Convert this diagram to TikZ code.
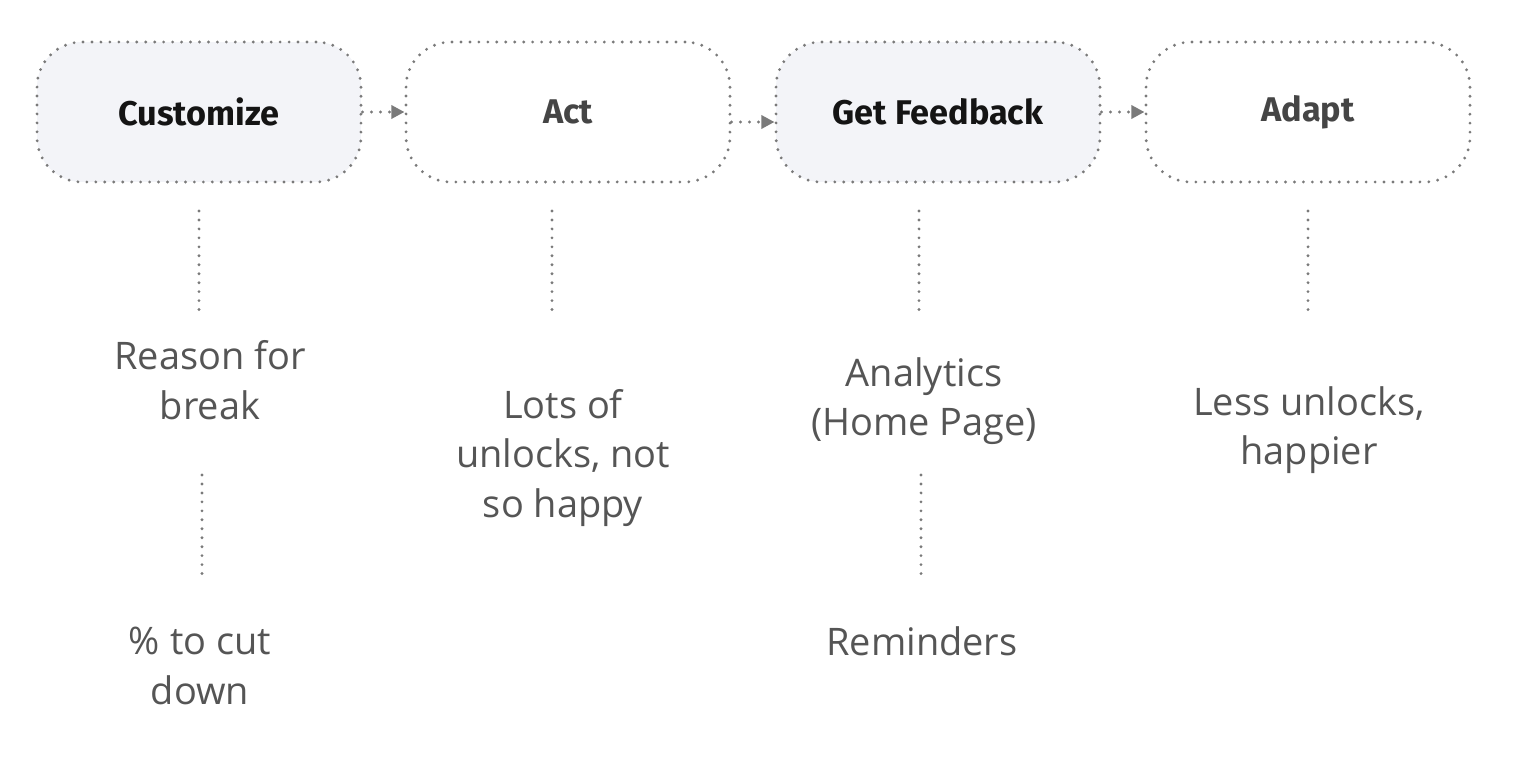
\documentclass[tikz,border=0pt]{standalone}
\usepackage{fontspec}
\setmainfont{Open Sans}
\newfontfamily\headfont{Fira Sans}
\usepackage{xcolor}
\usepackage{tikz}
\usetikzlibrary{positioning,arrows.meta}
\definecolor{dotgray}{HTML}{7A7A7A}
\definecolor{txtgray}{HTML}{555555}
\definecolor{headgray}{HTML}{454545}
\definecolor{boxfill}{HTML}{F3F4F8}
\tikzset{
	dotline/.style={draw=dotgray, line width=1.8pt, line cap=round, dash pattern=on 0pt off 5.1pt},
	stage/.style={dotline, rounded corners=0.9cm, minimum width=6.48cm, minimum height=2.8cm,
		font=\headfont\bfseries\fontsize{19.5}{22}\selectfont},
	hot/.style={stage, fill=boxfill, text=black!92},
	cold/.style={stage, fill=white, text=headgray},
	note/.style={align=center, text=txtgray, font=\fontsize{21.6}{28.3}\selectfont},
	flow/.style={dotline, -{Triangle[length=7.5pt,width=7.5pt,fill=dotgray]}}
}

\begin{document}
\begin{tikzpicture}[x=0.02cm,y=-0.02cm]
	\useasboundingbox (0,0) rectangle (1514,760);
	\node[hot]  (cust)  at (199,112)  {Customize};
	\node[cold] (act)   at (568,112)  {Act};
	\node[hot]  (fb)    at (938,112)  {Get Feedback};
	\node[cold] (adapt) at (1308,112) {Adapt};
	\draw[flow] (cust.east) -- (act.west);
	\draw[flow] ([yshift=-0.2cm]act.east) -- ([yshift=-0.2cm]fb.west);
	\draw[flow] (fb.east) -- (adapt.west);
	\node[note] (reason)  at (210,380)  {Reason for\\break};
	\node[note] (cut)     at (200,666)  {\% to cut\\down};
	\node[note] (lots)    at (563,458)  {Lots of\\unlocks, not\\so happy};
	\node[note] (analyt)  at (924,401)  {Analytics\\(Home Page)};
	\node[note] (remind)  at (922,641)  {Reminders};
	\node[note] (less)    at (1309,430) {Less unlocks,\\happier};
	\coordinate (c1) at (199,211);
	\coordinate (c2) at (199,315);
	\coordinate (c3) at (202,475);
	\coordinate (c4) at (202,580);
	\coordinate (a1) at (552,211);
	\coordinate (a2) at (552,315);
	\coordinate (f1) at (919,211);
	\coordinate (f2) at (919,315);
	\coordinate (f3) at (921,475);
	\coordinate (f4) at (921,580);
	\coordinate (d1) at (1308,211);
	\coordinate (d2) at (1308,315);
	\draw[dotline] (c1) -- (c2);
	\draw[dotline] (c3) -- (c4);
	\draw[dotline] (a1) -- (a2);
	\draw[dotline] (f1) -- (f2);
	\draw[dotline] (f3) -- (f4);
	\draw[dotline] (d1) -- (d2);
\end{tikzpicture}
\end{document}
